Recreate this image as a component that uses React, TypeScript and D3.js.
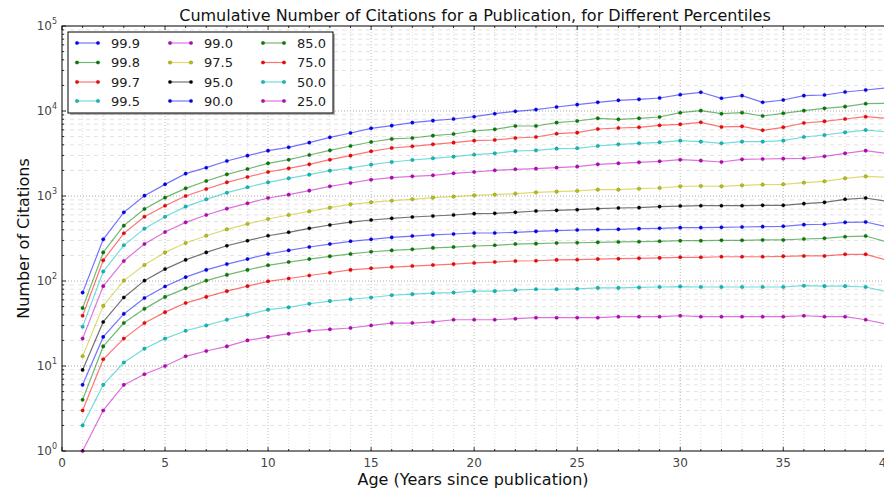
import React, { useEffect, useRef } from "react";
import * as d3 from "d3";

// age in years since publication
const years = [
  1, 2, 3, 4, 5, 6, 7, 8, 9, 10, 11, 12, 13, 14, 15, 16, 17, 18, 19, 20,
  21, 22, 23, 24, 25, 26, 27, 28, 29, 30, 31, 32, 33, 34, 35, 36, 37, 38, 39, 40,
];

// cumulative citations per percentile
const p999 = [73, 309, 642, 1009, 1371, 1832, 2153, 2580, 2983, 3414, 3740, 4240, 4900, 5510, 6250, 6720, 7290, 7700, 8050, 8570, 9300, 9910, 10370, 11150, 11880, 12650, 13350, 13710, 14220, 15560, 16600, 14100, 15150, 12650, 13470, 15150, 15420, 16740, 17660, 18660];
const p998 = [48, 217, 448, 703, 956, 1230, 1500, 1798, 2080, 2422, 2675, 3035, 3445, 3873, 4317, 4688, 4810, 5127, 5360, 5818, 6085, 6664, 6664, 7290, 7625, 8200, 7980, 8200, 8500, 9550, 10090, 9300, 9550, 8730, 9390, 10090, 10750, 11250, 12190, 12300];
const p997 = [39, 175, 364, 571, 769, 1000, 1208, 1448, 1674, 1916, 2115, 2358, 2675, 2983, 3353, 3670, 3840, 4055, 4240, 4480, 4560, 4810, 4945, 5410, 5560, 6140, 6310, 6430, 6780, 6970, 7360, 6490, 6600, 5930, 6430, 7230, 7550, 8050, 8570, 8200];
const p995 = [29, 129, 263, 413, 571, 750, 913, 1094, 1265, 1448, 1614, 1783, 1986, 2135, 2337, 2512, 2652, 2775, 2904, 3063, 3177, 3384, 3445, 3606, 3640, 3873, 4055, 4168, 4280, 4480, 4360, 4168, 4360, 4360, 4480, 4945, 5220, 5610, 5970, 5710];
const p990 = [21, 87, 172, 272, 377, 490, 598, 709, 820, 947, 1037, 1156, 1300, 1422, 1556, 1643, 1703, 1750, 1848, 1916, 2004, 2060, 2098, 2155, 2215, 2358, 2422, 2490, 2558, 2675, 2605, 2512, 2700, 2725, 2750, 2775, 2930, 3177, 3414, 3177];
const p975 = [13, 51, 101, 154, 217, 280, 341, 405, 469, 536, 598, 660, 729, 798, 842, 881, 914, 956, 982, 1018, 1037, 1065, 1104, 1125, 1146, 1188, 1188, 1219, 1242, 1300, 1312, 1300, 1334, 1360, 1371, 1435, 1488, 1614, 1703, 1660];
const p950 = [9, 33, 64, 101, 138, 177, 217, 260, 298, 341, 374, 417, 456, 494, 522, 546, 566, 582, 598, 620, 625, 642, 666, 678, 690, 709, 722, 729, 750, 762, 769, 769, 769, 776, 776, 813, 842, 914, 947, 865];
const p900 = [6, 22, 41, 63, 86, 111, 135, 158, 181, 208, 229, 251, 272, 293, 309, 326, 338, 348, 357, 367, 367, 374, 384, 391, 398, 402, 405, 413, 417, 424, 424, 428, 432, 436, 440, 460, 465, 490, 494, 436];
const p850 = [4, 17, 32, 47, 65, 82, 101, 118, 135, 153, 167, 181, 195, 208, 221, 229, 236, 245, 251, 258, 263, 272, 275, 280, 282, 285, 288, 290, 293, 298, 298, 301, 301, 304, 304, 312, 318, 332, 338, 290];
const p750 = [3, 12, 21, 32, 43, 55, 65, 76, 87, 99, 107, 116, 125, 135, 141, 146, 150, 154, 158, 163, 167, 172, 173, 177, 178, 181, 183, 185, 187, 190, 190, 193, 193, 193, 195, 197, 197, 206, 206, 177];
const p500 = [2, 6, 11, 16, 21, 26, 30, 35, 40, 46, 49, 54, 58, 61, 64, 68, 70, 72, 73, 76, 76, 78, 80, 80, 81, 83, 83, 84, 85, 86, 85, 85, 85, 85, 85, 88, 87, 87, 85, 75];
const p250 = [1, 3, 6, 8, 10, 13, 15, 17, 20, 22, 24, 26, 27, 28, 30, 32, 32, 33, 35, 35, 35, 36, 37, 37, 37, 37, 38, 38, 38, 39, 38, 38, 38, 38, 38, 39, 38, 38, 35, 31];

const labels = ["99.9", "99.8", "99.7", "99.5", "99.0", "97.5", "95.0", "90.0", "85.0", "75.0", "50.0", "25.0"];
const seriesValues = [p999, p998, p997, p995, p990, p975, p950, p900, p850, p750, p500, p250];
const colors = ["#0000ff", "#008000", "#ff0000", "#00bfbf", "#bf00bf", "#bfbf00", "#000000", "#0000ff", "#008000", "#ff0000", "#00bfbf", "#bf00bf"];

const xTicks = [0, 5, 10, 15, 20, 25, 30, 35, 40];
const yDecades = [0, 1, 2, 3, 4, 5];

const W = 884;
const H = 490;

const App = () => {
  const ref = useRef<SVGSVGElement>(null);

  useEffect(() => {
    document.body.style.margin = "0";
    const svg = d3.select(ref.current);
    svg.selectAll("*").remove();

    const font = "DejaVu Sans, sans-serif";
    const left = 62, right = 886.3, top = 26, bottom = 451;

    const x = d3.scaleLinear().domain([0, 40]).range([left, right]);
    const y = d3.scaleLog().domain([1, 1e5]).range([bottom, top]);

    svg.append("rect").attr("width", W).attr("height", H).attr("fill", "#fff");

    const grid = svg.append("g");
    // vertical grid, every year
    d3.range(1, 40).forEach((v) => {
      grid.append("line")
        .attr("x1", x(v)).attr("x2", x(v)).attr("y1", top).attr("y2", bottom)
        .attr("stroke", v % 5 === 0 ? "#bbb" : "#ddd")
        .attr("stroke-width", 1)
        .attr("stroke-dasharray", "1,2");
    });
    // minor horizontal grid
    yDecades.slice(0, 5).forEach((d) => {
      d3.range(2, 10).forEach((m) => {
        const yy = y(m * Math.pow(10, d));
        grid.append("line")
          .attr("x1", left).attr("x2", right).attr("y1", yy).attr("y2", yy)
          .attr("stroke", "#e3e3e3").attr("stroke-dasharray", "4,4");
      });
    });
    // major horizontal grid
    yDecades.slice(1, 5).forEach((d) => {
      const yy = y(Math.pow(10, d));
      grid.append("line")
        .attr("x1", left).attr("x2", right).attr("y1", yy).attr("y2", yy)
        .attr("stroke", "#aaa").attr("stroke-dasharray", "1,2");
    });

    // series
    const line = d3.line<number>()
      .x((d, i) => x(years[i]))
      .y((d) => y(d));

    seriesValues.forEach((vals, s) => {
      const g = svg.append("g");
      g.append("path")
        .datum(vals)
        .attr("d", line)
        .attr("fill", "none")
        .attr("stroke", colors[s])
        .attr("stroke-opacity", 0.55)
        .attr("stroke-width", 1.2);
      g.selectAll("circle")
        .data(vals)
        .enter()
        .append("circle")
        .attr("cx", (d, i) => x(years[i]))
        .attr("cy", (d) => y(d))
        .attr("r", 1.8)
        .attr("fill", colors[s])
        .attr("stroke", "#333")
        .attr("stroke-opacity", 0.4)
        .attr("stroke-width", 0.5);
    });

    // spines
    svg.append("rect")
      .attr("x", left).attr("y", top)
      .attr("width", right - left).attr("height", bottom - top)
      .attr("fill", "none").attr("stroke", "#000").attr("stroke-width", 1);

    // ticks (inward)
    const ticks = svg.append("g").attr("stroke", "#000").attr("stroke-width", 0.8);
    d3.range(0, 41).forEach((v) => {
      const len = v % 5 === 0 ? 4 : 2;
      ticks.append("line").attr("x1", x(v)).attr("x2", x(v)).attr("y1", bottom).attr("y2", bottom - len);
      ticks.append("line").attr("x1", x(v)).attr("x2", x(v)).attr("y1", top).attr("y2", top + len);
    });
    yDecades.forEach((d) => {
      const yy = y(Math.pow(10, d));
      ticks.append("line").attr("x1", left).attr("x2", left + 4).attr("y1", yy).attr("y2", yy);
      if (d < 5) {
        d3.range(2, 10).forEach((m) => {
          const ym = y(m * Math.pow(10, d));
          ticks.append("line").attr("x1", left).attr("x2", left + 2).attr("y1", ym).attr("y2", ym);
        });
      }
    });

    // tick labels
    xTicks.forEach((v) => {
      svg.append("text")
        .attr("x", x(v)).attr("y", bottom + 16)
        .attr("text-anchor", "middle")
        .attr("font-family", font).attr("font-size", 12).attr("fill", "#444")
        .text(v);
    });
    yDecades.forEach((d) => {
      const t = svg.append("text")
        .attr("x", left - 5).attr("y", y(Math.pow(10, d)) + 4)
        .attr("text-anchor", "end")
        .attr("font-family", font).attr("font-size", 12).attr("fill", "#444");
      t.append("tspan").text("10");
      t.append("tspan").attr("font-size", 8).attr("dy", -6).text(String(d));
    });

    // title and axis labels
    svg.append("text")
      .attr("x", 475).attr("y", 21)
      .attr("text-anchor", "middle")
      .attr("font-family", font).attr("font-size", 16).attr("fill", "#111")
      .text("Cumulative Number of Citations for a Publication, for Different Percentiles");
    svg.append("text")
      .attr("x", 473).attr("y", 485)
      .attr("text-anchor", "middle")
      .attr("font-family", font).attr("font-size", 16).attr("fill", "#111")
      .text("Age (Years since publication)");
    svg.append("text")
      .attr("transform", `translate(29, ${(top + bottom) / 2}) rotate(-90)`)
      .attr("text-anchor", "middle")
      .attr("font-family", font).attr("font-size", 16).attr("fill", "#111")
      .text("Number of Citations");

    // legend
    const lg = svg.append("g");
    lg.append("rect")
      .attr("x", 70).attr("y", 34).attr("width", 265).attr("height", 81)
      .attr("fill", "#888").attr("opacity", 0.6);
    lg.append("rect")
      .attr("x", 68).attr("y", 32).attr("width", 265).attr("height", 81)
      .attr("fill", "#fff").attr("stroke", "#000").attr("stroke-width", 1);
    const colX = [77, 170, 263];
    const rowY = [43, 62.5, 82, 101];
    labels.forEach((lab, i) => {
      const cx = colX[Math.floor(i / 4)];
      const cy = rowY[i % 4];
      lg.append("line")
        .attr("x1", cx).attr("x2", cx + 21).attr("y1", cy).attr("y2", cy)
        .attr("stroke", colors[i]).attr("stroke-opacity", 0.55).attr("stroke-width", 1.2);
      [cx, cx + 21].forEach((px) => {
        lg.append("circle").attr("cx", px).attr("cy", cy).attr("r", 1.8)
          .attr("fill", colors[i]).attr("stroke", "#333").attr("stroke-opacity", 0.4).attr("stroke-width", 0.5);
      });
      lg.append("text")
        .attr("x", cx + 34).attr("y", cy + 4.5)
        .attr("font-family", font).attr("font-size", 13).attr("fill", "#222")
        .text(lab);
    });
  }, []);

  return <svg ref={ref} width={W} height={H} style={{ display: "block" }} />;
};

export default App;
